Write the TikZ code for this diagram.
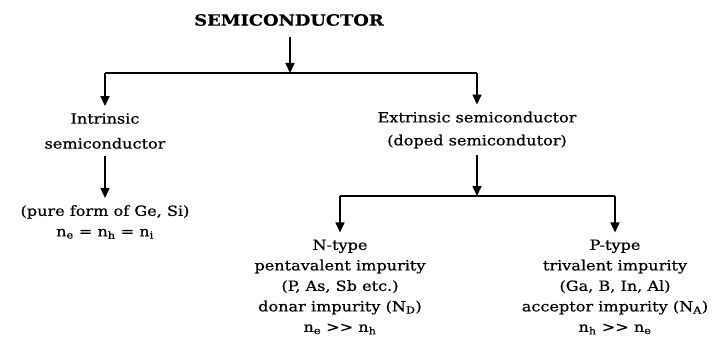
\documentclass[tikz,border=0pt]{standalone}
\usepackage{fontspec}
\setmainfont[FakeStretch=1.15, FakeBold=0.5]{DejaVu Serif}
\usetikzlibrary{arrows.meta}

\tikzstyle{txt} =[align=center, inner xsep=2pt, inner ysep=7pt,
font=\fontsize{14}{20.5}\selectfont]
\tikzstyle{arr} =[line width=1.6pt, -{Triangle[length=10pt,width=9pt]}]
\tikzstyle{bar} =[line width=1.6pt]

\begin{document}
\begin{tikzpicture}[x=1pt, y=-1pt]
\useasboundingbox (0,0) rectangle (717,361);

% top of the tree
\node[txt, inner ysep=11pt, font=\bfseries\fontsize{15.5}{15}\selectfont] (semi) at (289,20) {SEMICONDUCTOR};
\coordinate (top) at (290,73);
\coordinate (topl) at (105,73);
\coordinate (topr) at (477,73);

\node[txt, font=\fontsize{14}{25}\selectfont] (intr) at (105,131)
	{Intrinsic\\semiconductor};
\node[txt, font=\fontsize{14}{23}\selectfont] (extr) at (477,130)
	{Extrinsic semiconductor\\(doped semicondutor)};
\node[txt] (pure) at (105,222)
	{(pure form of Ge, Si)\\n\textsubscript{e} = n\textsubscript{h} = n\textsubscript{i}};

% doped branch
\coordinate (mid) at (477,196);
\coordinate (midl) at (340,196);
\coordinate (midr) at (615,196);

\node[txt] (ntype) at (340,287)
	{N-type\\pentavalent impurity\\(P, As, Sb etc.)\\donar impurity (N\textsubscript{D})\\n\textsubscript{e} >{}> n\textsubscript{h}};
\node[txt] (ptype) at (615,287)
	{P-type\\trivalent impurity\\(Ga, B, In, Al)\\acceptor impurity (N\textsubscript{A})\\n\textsubscript{h} >{}> n\textsubscript{e}};

\draw[arr] (semi.south -| top) -- (top);
\draw[bar] (topl) -- (topr);
\draw[arr] (topl) -- (intr.north);
\draw[arr] (topr) -- (extr.north);
\draw[arr] (intr.south) -- (pure.north);
\draw[arr] (extr.south) -- (mid);
\draw[bar] (midl) -- (midr);
\draw[arr] (midl) -- (ntype.north);
\draw[arr] (midr) -- (ptype.north);
\end{tikzpicture}
\end{document}
